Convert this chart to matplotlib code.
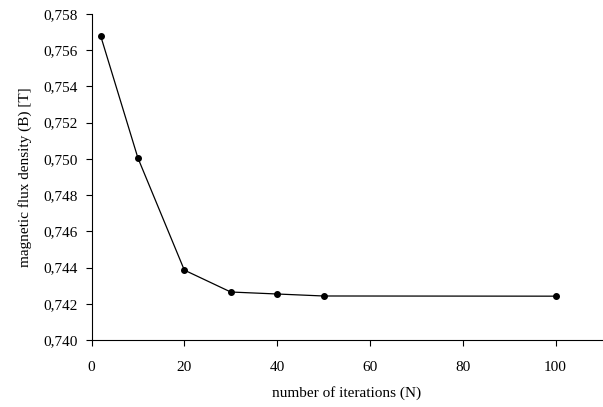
import matplotlib
matplotlib.use('Agg')
import matplotlib.pyplot as plt
from matplotlib.ticker import FuncFormatter, MultipleLocator

plt.rcParams['font.family'] = ['Liberation Serif', 'DejaVu Serif']

# Data
iterations = [2, 10, 20, 30, 40, 50, 100]
flux_density = [0.75677, 0.75005, 0.74386, 0.74265, 0.74254, 0.74243, 0.74242]

fig = plt.figure(figsize=(6.03, 4.07), dpi=100)
ax = fig.add_axes([91.5 / 603, 1 - 340 / 407, (602 - 91.5) / 603, (340 - 14) / 407])

ax.plot(iterations, flux_density, color='black', lw=0.9, marker='o', ms=4, clip_on=False)

ax.set_xlim(0, 110)
ax.set_ylim(0.740, 0.758)
ax.xaxis.set_major_locator(MultipleLocator(20))
ax.yaxis.set_major_locator(MultipleLocator(0.002))
ax.yaxis.set_major_formatter(FuncFormatter(lambda v, p: '{:.3f}'.format(v).replace('.', ',')))

# Only left and bottom axis lines
for loc in ['right', 'top']:
    ax.spines[loc].set_visible(False)
for loc in ['left', 'bottom']:
    ax.spines[loc].set_linewidth(0.8)

ax.tick_params(axis='x', direction='out', length=4, width=0.8, labelsize=11, pad=11)
ax.tick_params(axis='y', direction='out', length=4, width=0.8, labelsize=11, pad=6)

ax.set_xlabel('number of iterations (N)', fontsize=11, labelpad=9)
ax.set_ylabel('magnetic flux density (B) [T]', fontsize=11, labelpad=8)

fig.savefig('out.png', dpi=100)
